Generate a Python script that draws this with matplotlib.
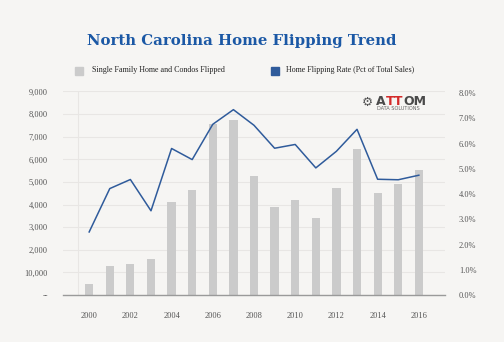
import matplotlib
matplotlib.use("Agg")
import matplotlib.pyplot as plt
from matplotlib.patches import Rectangle

years = list(range(2000, 2017))
flipped = [490, 1280, 1370, 1610, 4115, 4650, 7570, 7740, 5265, 3910, 4220, 3390, 4720, 6440, 4530, 4930, 5520]
rate_pct = [2.50, 4.22, 4.58, 3.34, 5.81, 5.37, 6.77, 7.35, 6.73, 5.82, 5.97, 5.04, 5.70, 6.57, 4.59, 4.57, 4.75]
left_ticks = [0, 1000, 2000, 3000, 4000, 5000, 6000, 7000, 8000, 9000]
left_labels = ['--', '10,000', '2,000', '3,000', '4,000', '5,000', '6,000', '7,000', '8,000', '9,000']
right_ticks = [0, 1, 2, 3, 4, 5, 6, 7, 8]
right_labels = ['0.0%', '1.0%', '2.0%', '3.0%', '4.0%', '5.0%', '6.0%', '7.0%', '8.0%']
x_tick_years = [2000, 2002, 2004, 2006, 2008, 2010, 2012, 2014, 2016]
title = "North Carolina Home Flipping Trend"
legend_bar = "Single Family Home and Condos Flipped"
legend_line = "Home Flipping Rate (Pct of Total Sales)"

BG = '#f6f5f3'
BAR = '#cbcbcb'
LINE = '#2f5b9b'
GRID = '#e8e6e4'
TXT = '#555555'
SERIF = ['Liberation Serif', 'DejaVu Serif']

fig = plt.figure(figsize=(5.04, 3.42), dpi=100, facecolor=BG)
ax = fig.add_axes([63/504, 1-295/342, (445-63)/504, (295-91.5)/342])
ax.set_facecolor(BG)
ax.bar(years, flipped, width=0.40, color=BAR, zorder=2)
ax.set_xlim(1998.73, 2017.27)
ax.set_ylim(0, 9000)
ax.set_yticks(left_ticks)
ax.set_yticklabels(left_labels, fontsize=6, color=TXT, family=SERIF)
ax.set_xticks(x_tick_years)
ax.set_xticklabels([str(y) for y in x_tick_years], fontsize=6, color=TXT, family=SERIF)
ax.tick_params(axis='both', length=0)
ax.tick_params(axis='y', pad=11)
ax.tick_params(axis='x', pad=12)
ax.grid(axis='y', color=GRID, linewidth=0.8, zorder=0)
ax.axvline(1999.47, color=GRID, linewidth=0.8, zorder=0)
for s in ['top', 'right', 'left']:
    ax.spines[s].set_visible(False)
ax.spines['bottom'].set_color('#9a9a9a')
ax.spines['bottom'].set_linewidth(1.0)
ax.spines['bottom'].set_zorder(3)

ax2 = ax.twinx()
ax2.plot(years, rate_pct, color=LINE, linewidth=1.1, zorder=4)
ax2.set_ylim(0, 8.07)
ax2.set_yticks(right_ticks)
ax2.set_yticklabels(right_labels, fontsize=6, color=TXT, family=SERIF)
ax2.tick_params(axis='y', length=0, pad=10)
for s in ['top', 'right', 'left', 'bottom']:
    ax2.spines[s].set_visible(False)

# Title
fig.text(241.5/504, 1-41/342, title, ha='center', va='center', fontsize=10.7,
         fontweight='bold', color='#1b58a5', family=['DejaVu Serif'])

# Legend
fig.patches.append(Rectangle((75/504, 1-74.5/342), 8/504, 8/342, transform=fig.transFigure,
                             color=BAR, zorder=5))
fig.text(91.5/504, 1-70/342, legend_bar, ha='left', va='center', fontsize=5.8,
         color='#222222', family=SERIF)
fig.patches.append(Rectangle((270.5/504, 1-74.5/342), 8/504, 8/342, transform=fig.transFigure,
                             color=LINE, zorder=5))
fig.text(286.5/504, 1-70/342, legend_line, ha='left', va='center', fontsize=5.8,
         color='#222222', family=SERIF)

# Logo
fig.text(367/504, 1-102/342, "\u2699", ha='center', va='center', fontsize=9, color='#555555',
         family=['DejaVu Sans'])
lx = 376/504
ly = 1-101.5/342
t1 = fig.text(lx, ly, "A", ha='left', va='center', fontsize=9, fontweight='bold', color='#4a4a4a',
              family=['DejaVu Sans'])
fig.canvas.draw()
r = fig.canvas.get_renderer()
bb = t1.get_window_extent(r)
t2 = fig.text(bb.x1/504, ly, "TT", ha='left', va='center', fontsize=9, fontweight='bold',
              color='#d42a2a', family=['DejaVu Sans'])
bb2 = t2.get_window_extent(r)
fig.text(bb2.x1/504, ly, "OM", ha='left', va='center', fontsize=9, fontweight='bold',
         color='#4a4a4a', family=['DejaVu Sans'])
fig.text(377/504, 1-109/342, "DATA SOLUTIONS", ha='left', va='center', fontsize=3.6,
         color='#666666', family=['DejaVu Sans'])

fig.savefig('out.png', dpi=100, facecolor=BG)
